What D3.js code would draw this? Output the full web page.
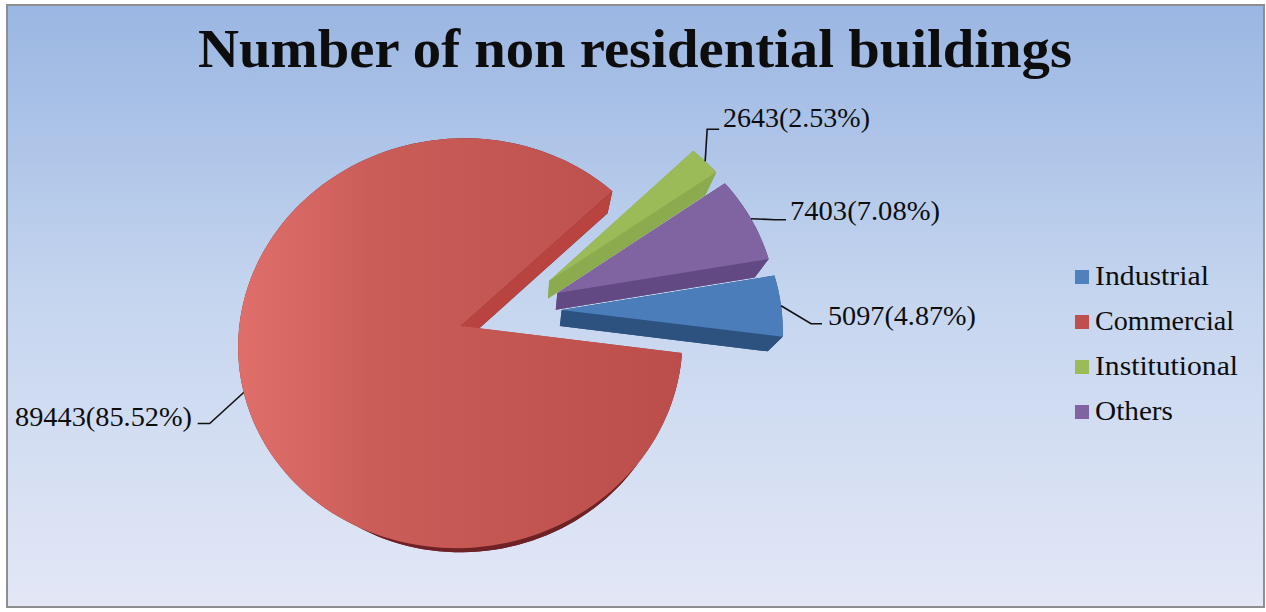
<!DOCTYPE html>
<html>
<head>
<meta charset="utf-8">
<script src="https://cdn.jsdelivr.net/npm/d3@7/dist/d3.min.js"></script>
<style>
html,body{margin:0;padding:0;background:#fff;overflow:hidden}
svg{display:block}
text{font-family:"Liberation Serif",serif;fill:#0d0d0d}
</style>
</head>
<body>
<svg id="chart" width="1266" height="612"></svg>
<script>
const titleText = "Number of non residential buildings";
const categories = ["Industrial", "Commercial", "Institutional", "Others"];
const values = [5097, 89443, 2643, 7403];
const percents = ["4.87", "85.52", "2.53", "7.08"];

const topColors  = ["#4A7DB9", "#C0504D", "#9BBB59", "#8064A2"];
const wallColors = ["#2D5280", "#B9433F", "#8CAB4F", "#624983"];
const rimColors  = ["#2D5280", "#6E2226", "#7F9B45", "#624983"];
const legendColors = ["#4F81BD", "#C0504D", "#9BBB59", "#8064A2"];

// projection of the exploded, tilted disk
const view = {cx:510, cy:311, rx:220, ry:201, persp:0.083, explode:0.235};
const project = (X, Y) => {
  const f = 1 / (1 - view.persp * Y);
  return [view.cx + view.rx * X * f, view.cy + view.ry * Y * f];
};
// the underside sits further from the viewer, so it shrinks slightly
const drop = ([x, y]) => [x - 0.059 * (x - 531), y + 16 - 0.05 * (y - 311)];

const svg = d3.select("#chart");
const defs = svg.append("defs");

const bg = defs.append("linearGradient").attr("id","bg").attr("x1",0).attr("y1",0).attr("x2",0).attr("y2",1);
[[0,"#9AB6E2"],[0.5,"#C6D6EF"],[1,"#E3E7F6"]].forEach(([o,c]) => bg.append("stop").attr("offset",o).attr("stop-color",c));
svg.append("rect").attr("x",7).attr("y",5).attr("width",1257).attr("height",602)
  .attr("fill","url(#bg)").attr("stroke","#8E8E8E").attr("stroke-width",2);

const redGrad = defs.append("linearGradient").attr("id","red").attr("gradientUnits","userSpaceOnUse")
  .attr("x1",239).attr("y1",0).attr("x2",680).attr("y2",0);
[[0,"#E06F6B"],[0.3,"#CB5D59"],[1,"#BB4E4A"]].forEach(([o,c]) => redGrad.append("stop").attr("offset",o).attr("stop-color",c));

svg.append("text").attr("x",198).attr("y",67)
  .attr("font-size",55).attr("font-weight",700)
  .attr("textLength",874).attr("lengthAdjust","spacingAndGlyphs").text(titleText);

const deg = Math.PI / 180;
const startAngle = 80 * deg;
const arcs = d3.pie().sort(null).startAngle(startAngle).endAngle(startAngle + 2 * Math.PI)(values);
const line = d3.line();

const slices = arcs.map((a, i) => {
  const mid = (a.startAngle + a.endAngle) / 2;
  const ox = view.explode * Math.sin(mid), oy = -view.explode * Math.cos(mid);
  const n = Math.max(4, Math.ceil((a.endAngle - a.startAngle) / (2 * deg)));
  const rim = d3.range(n + 1).map(k => {
    const t = a.startAngle + (a.endAngle - a.startAngle) * k / n;
    return project(ox + Math.sin(t), oy - Math.cos(t));
  });
  const apex = project(ox, oy);
  const anchor = project(ox + Math.sin(mid), oy - Math.cos(mid));
  return {i, rim, apex, anchor};
});

const order = [1, 3, 2, 0];
order.forEach(i => {
  const s = slices[i];
  const g = svg.append("g");
  const outline = [s.apex, ...s.rim];
  // underside and curved wall
  g.append("path").attr("d", line(outline.map(drop)) + "Z").attr("fill", rimColors[i]);
  g.append("path").attr("d", line([...s.rim, ...s.rim.map(drop).reverse()]) + "Z").attr("fill", rimColors[i]);
  // flat cut walls
  [s.rim[0], s.rim[s.rim.length - 1]].forEach(p => {
    g.append("path").attr("d", line([s.apex, p, drop(p), drop(s.apex)]) + "Z").attr("fill", wallColors[i]);
  });
  g.append("path").attr("d", line(outline) + "Z")
    .attr("fill", i === 1 ? "url(#red)" : topColors[i]);
});

// data labels with leader lines, routed relative to each slice's anchor point
const leaderRoute = [[[30,18],[41,18]], [[-34,31],[-46,31]], [[2,-32],[14,-32]], [[24,1],[35,1]]];
const labelPos = [[828,325],[15,426],[723,127],[790,220]];
const labelWidths = [148,177,147,150];
slices.forEach(s => {
  const [ax, ay] = s.anchor;
  const pts = [[ax, ay], ...leaderRoute[s.i].map(([dx, dy]) => [ax + dx, ay + dy])];
  svg.append("path").attr("d", line(pts)).attr("fill","none").attr("stroke","#111").attr("stroke-width",1.6);
  svg.append("text").attr("x", labelPos[s.i][0]).attr("y", labelPos[s.i][1])
    .attr("font-size",28).attr("textLength",labelWidths[s.i]).attr("lengthAdjust","spacingAndGlyphs")
    .text(`${values[s.i]}(${percents[s.i]}%)`);
});

// legend
const legendY = d3.scalePoint().domain(categories).range([277, 412]);
const legendWidths = [114,139,143,78];
const legend = svg.append("g").selectAll("g").data(categories).join("g")
  .attr("transform", d => `translate(1075,${legendY(d)})`);
legend.append("rect").attr("x",0).attr("y",-7).attr("width",14).attr("height",14)
  .attr("fill", (d, i) => legendColors[i]);
legend.append("text").attr("x",20).attr("y",8).attr("font-size",28)
  .attr("textLength",(d, i) => legendWidths[i]).attr("lengthAdjust","spacingAndGlyphs").text(d => d);
</script>
</body>
</html>
